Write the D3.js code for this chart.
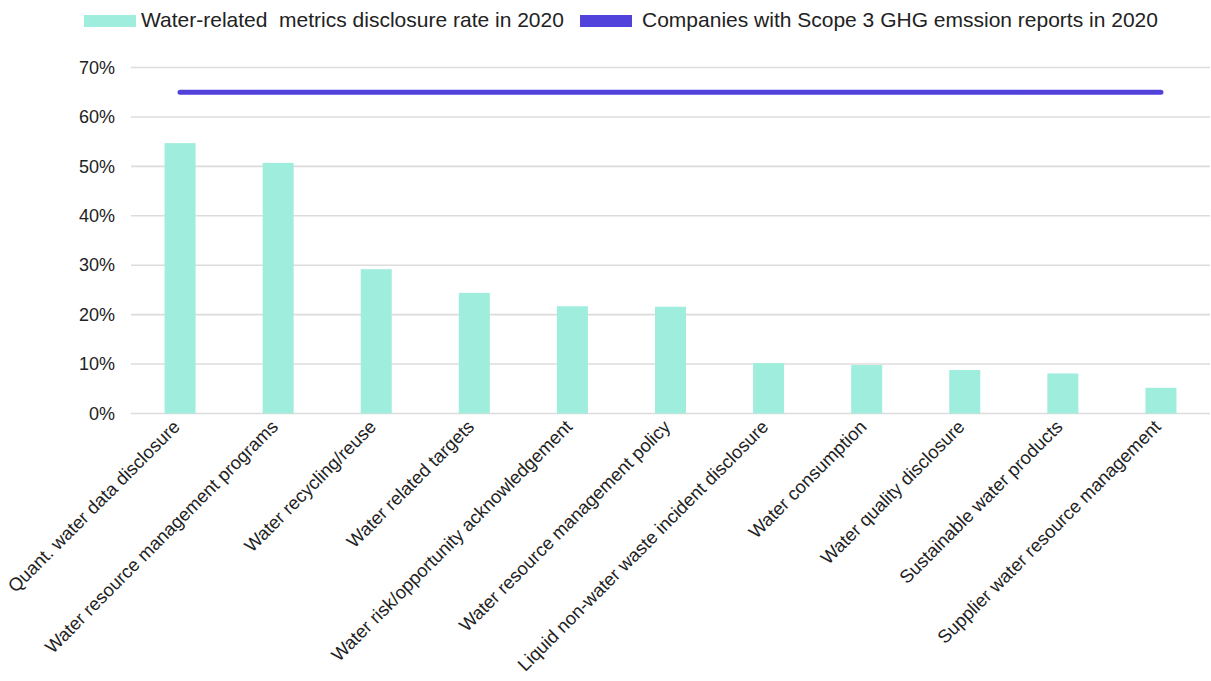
<!DOCTYPE html>
<html>
<head>
<meta charset="utf-8">
<script src="https://cdn.jsdelivr.net/npm/d3@7"></script>
<style>
  html, body { margin: 0; padding: 0; background: #ffffff; }
  svg { display: block; font-family: "Liberation Sans", Arial, sans-serif; }
</style>
</head>
<body>
<svg id="chart" width="1211" height="681"></svg>
<script>
// Categories of water-related disclosure
const categories = [
  "Quant. water data disclosure",
  "Water resource management programs",
  "Water recycling/reuse",
  "Water related targets",
  "Water risk/opportunity acknowledgement",
  "Water resource management policy",
  "Liquid non-water waste incident disclosure",
  "Water consumption",
  "Water quality disclosure",
  "Sustainable water products",
  "Supplier water resource management"
];

// Disclosure rate per category (%)
const disclosureRate = [54.7, 50.7, 29.2, 24.4, 21.7, 21.6, 10.2, 9.8, 8.8, 8.1, 5.2];

// Share of companies with Scope 3 GHG emission reports (%)
const scope3Rate = [65, 65, 65, 65, 65, 65, 65, 65, 65, 65, 65];

// Y axis ticks (%)
const yTicks = [0, 10, 20, 30, 40, 50, 60, 70];

// Legend entries
const legendLabels = [
  "Water-related  metrics disclosure rate in 2020",
  "Companies with Scope 3 GHG emssion reports in 2020"
];

const barColor = "#9feddc";
const lineColor = "#5142dc";
const gridColor = "#dcdcdc";
const textColor = "#222222";

const svg = d3.select("#chart");

const x = d3.scaleBand()
  .domain(categories)
  .range([131, 1210])
  .paddingInner(0.684)
  .paddingOuter(0.342);

const y = d3.scaleLinear()
  .domain([0, 70])
  .range([413.5, 67.5]);

// Horizontal gridlines
svg.append("g")
  .selectAll("line")
  .data(yTicks)
  .join("line")
  .attr("x1", 131)
  .attr("x2", 1210)
  .attr("y1", d => y(d))
  .attr("y2", d => y(d))
  .attr("stroke", gridColor)
  .attr("stroke-width", 1.6);

// Y axis labels
const yAxis = svg.append("g")
  .attr("transform", "translate(131,0)")
  .call(d3.axisLeft(y).tickValues(yTicks).tickFormat(d => d + "%").tickSize(0).tickPadding(16));
yAxis.select(".domain").remove();
yAxis.selectAll("text")
  .attr("font-family", "Liberation Sans, Arial, sans-serif")
  .attr("font-size", 18)
  .attr("fill", textColor);

// Bars
svg.append("g")
  .selectAll("rect")
  .data(disclosureRate)
  .join("rect")
  .attr("x", (d, i) => x(categories[i]))
  .attr("width", x.bandwidth())
  .attr("y", d => y(d))
  .attr("height", d => y(0) - y(d))
  .attr("fill", barColor);

// Scope 3 line
const line = d3.line()
  .x((d, i) => x(categories[i]) + x.bandwidth() / 2)
  .y(d => y(d));

svg.append("path")
  .datum(scope3Rate)
  .attr("d", line)
  .attr("fill", "none")
  .attr("stroke", lineColor)
  .attr("stroke-width", 5)
  .attr("stroke-linecap", "round")
  .attr("stroke-linejoin", "round");

// Rotated category labels
svg.append("g")
  .selectAll("text")
  .data(categories)
  .join("text")
  .attr("transform", d => `translate(${x(d) + x.bandwidth() / 2 + 1},${428}) rotate(-45)`)
  .attr("text-anchor", "end")
  .attr("font-size", 18.4)
  .attr("fill", textColor)
  .text(d => d);

// Legend
const legend = svg.append("g");
const legendItems = [
  { label: legendLabels[0], color: barColor, sx: 84, tx: 141 },
  { label: legendLabels[1], color: lineColor, sx: 580, tx: 642 }
];
legendItems.forEach(item => {
  legend.append("rect")
    .attr("x", item.sx)
    .attr("y", 15)
    .attr("width", 52)
    .attr("height", 12)
    .attr("fill", item.color);
  legend.append("text")
    .attr("x", item.tx)
    .attr("y", 27)
    .attr("font-size", 21)
    .attr("fill", textColor)
    .style("white-space", "pre")
    .text(item.label);
});
</script>
</body>
</html>
